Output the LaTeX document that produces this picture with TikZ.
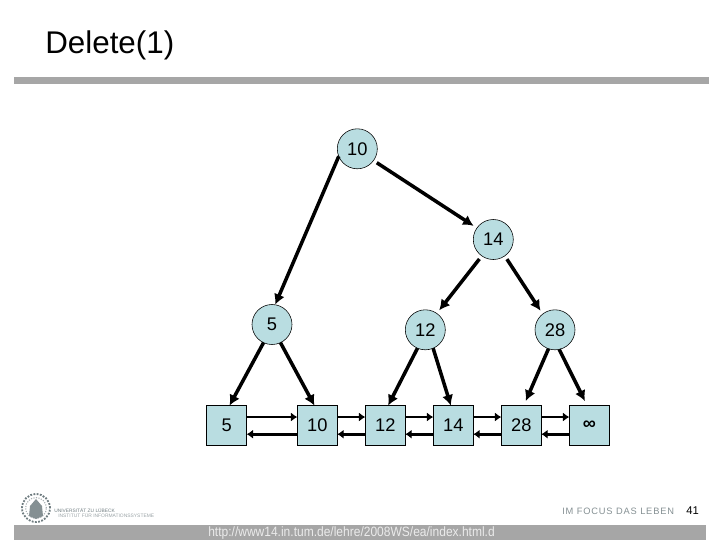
\documentclass[tikz,border=0pt]{standalone}
\usepackage{fontspec}
\setmainfont{Liberation Sans}
\usetikzlibrary{arrows.meta}
\definecolor{nodeblue}{HTML}{B9DDE1}
\definecolor{bargray}{HTML}{A6A6A6}
\definecolor{logogray}{HTML}{6F7C80}
\tikzset{
inner/.style={circle, draw=black, thin, fill=nodeblue, minimum size=1cm, inner sep=0, outer sep=0, font=\fontsize{13}{15}\selectfont},
leaf/.style={rectangle, draw=black, thin, fill=nodeblue, minimum size=1cm, inner sep=0, outer sep=0, font=\fontsize{13}{15}\selectfont},
link/.style={line width=2.5pt, -{Latex[length=7.5pt,width=8pt]}},
gap/.style={shorten <=2.8pt, shorten >=2.8pt},
sidelink/.style={line width=2.1pt, -{Latex[length=4.5pt,width=6.5pt]}}
}
\begin{document}
\begin{tikzpicture}[x=0.025cm, y=-0.025cm]
\useasboundingbox (0,0) rectangle (720,540);
% title and bars
\node[anchor=west, inner sep=0, font=\fontsize{22.3}{26}\selectfont] (title) at (45,45) {Delete(1)};
\fill[bargray] (14,77) rectangle (709,84);
\fill[bargray] (14,525) rectangle (706,540);
\node[anchor=west, inner sep=0, text=white!92!black, font=\fontsize{9.6}{11}\selectfont] (url) at (208,533) {\scalebox{.89}[1]{http://www14.in.tum.de/lehre/2008WS/ea/index.html.d}};
% inner nodes
\node[inner] (n10) at (357.3,148.8) {10};
\node[inner] (n14) at (493.3,239.5) {14};
\node[inner] (n5) at (272,324.5) {5};
\node[inner] (n12) at (425.3,329.8) {12};
\node[inner] (n28) at (555,329.8) {28};
% list
\foreach \name/\x/\txt in {l5/226.7/5, l10/317.3/10, l12/385.3/12, l14/453.3/14, l28/521.3/28, linf/589.3/{\bfseries ∞}}
\node[leaf] (\name) at (\x,425.6) {\txt};
% tree edges
\draw[link, gap] (n10.-36) -- (n14.145);
\draw[link] (n10.202) -- (n5.81);
\draw[link, gap] (n14.235) -- (n12.55);
\draw[link, gap] (n14.-55) -- (n28.128);
\draw[link] (n5.245) -- (l5.82);
\draw[link] (n5.-65) -- (l10.98);
\draw[link] (n12.247) -- (l12.82);
\draw[link] (n12.293) -- (l14.97);
\draw[link, shorten >=3.6pt] (n28.251) -- (l28.83);
\draw[link, shorten >=3.6pt] (n28.282) -- (linf.96);
% list edges
\foreach \a/\b in {l5/l10, l10/l12, l12/l14, l14/l28, l28/linf} {
\draw[sidelink] ([yshift=.215cm]\a.east) -- ([yshift=.215cm]\b.west);
\draw[sidelink] ([yshift=-.215cm]\b.west) -- ([yshift=-.215cm]\a.east);
}
% footer
\node[circle, draw=logogray, densely dotted, line width=1.3pt, minimum size=.7cm, inner sep=0] (seal) at (36,508) {};
\draw[logogray!60, densely dotted, line width=.8pt] (seal.center) circle (.26cm);
\fill[logogray!85] (29,516) -- (30,506) -- (36,499) -- (42,506) -- (43,516) -- (36,519) -- cycle;
\node[anchor=west, inner sep=0, text=logogray, font=\fontsize{3.45}{4}\selectfont] (uni) at (54,510) {UNIVERSITÄT ZU LÜBECK};
\node[anchor=west, inner sep=0, text=logogray!70, font=\fontsize{3.5}{4}\selectfont] (inst) at (58,515) {INSTITUT FÜR INFORMATIONSSYSTEME};
\node[anchor=west, inner sep=0, text=logogray!85, font=\fontsize{6.6}{8}\selectfont\addfontfeature{LetterSpace=9}] (motto) at (562,511) {IM FOCUS DAS LEBEN};
\node[anchor=west, inner sep=0, font=\fontsize{8}{9}\selectfont] (page) at (686,511) {41};
\end{tikzpicture}
\end{document}
